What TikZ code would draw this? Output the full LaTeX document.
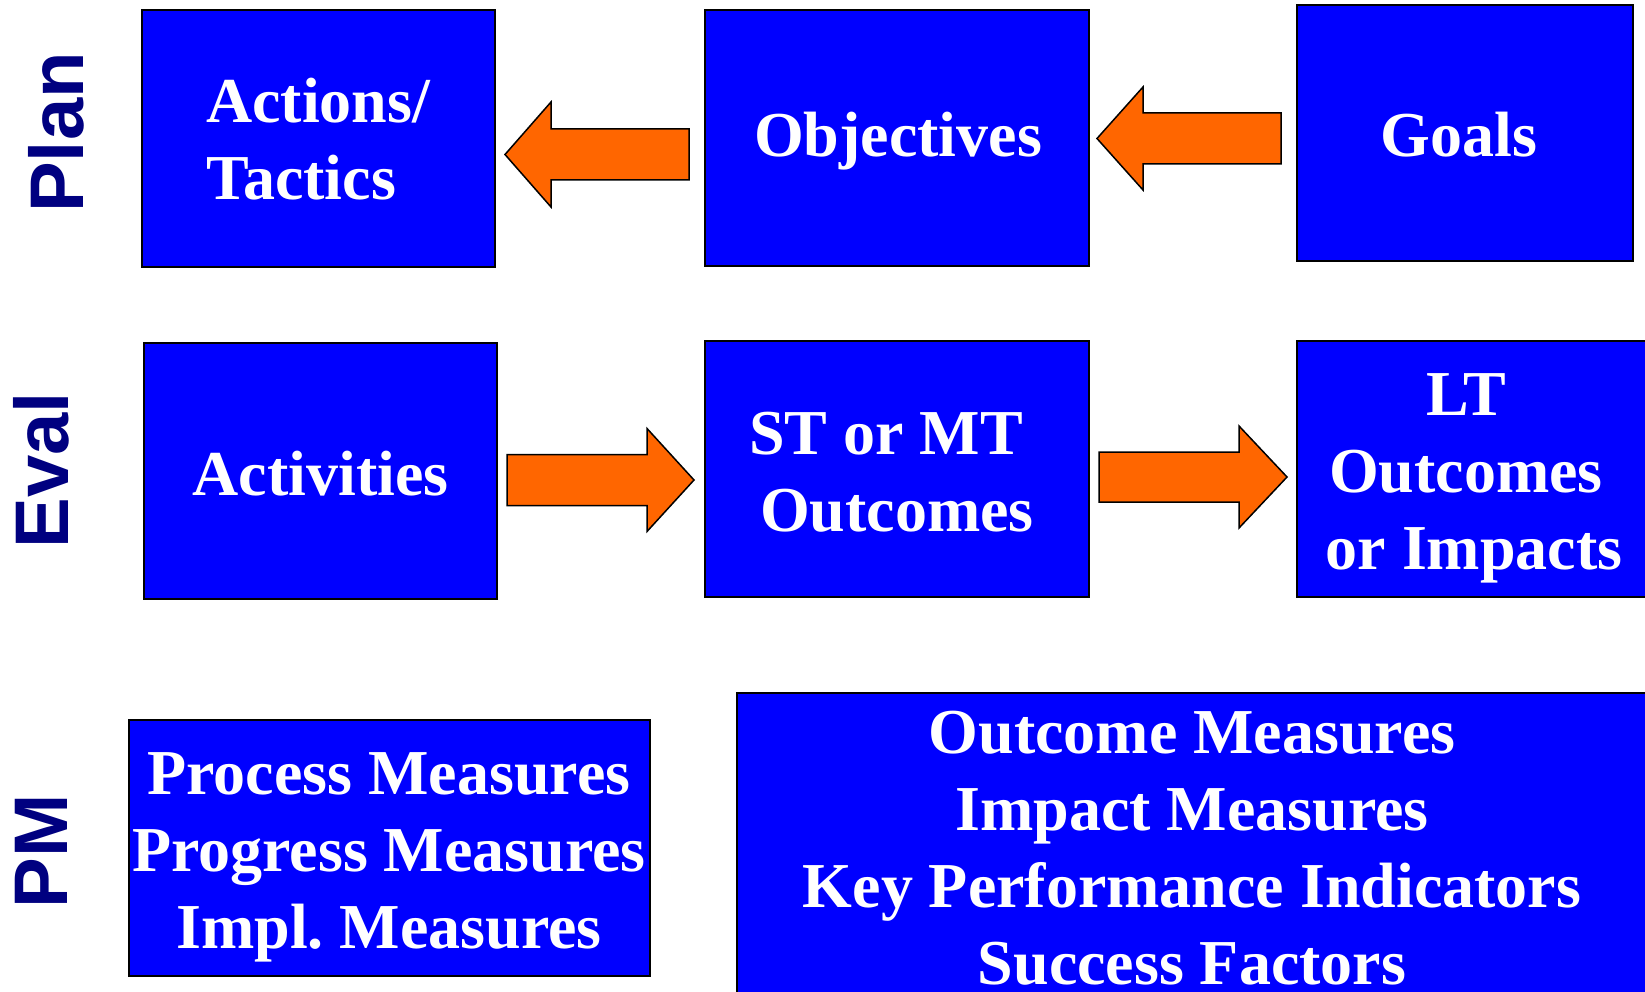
\documentclass[tikz,border=0pt]{standalone}
\usepackage{fontspec}
\setmainfont{Liberation Serif}
\newfontfamily\lblfont{Liberation Sans}
\usetikzlibrary{calc}
\definecolor{boxblue}{HTML}{0000FF}
\definecolor{arrorange}{HTML}{FF6600}
\definecolor{navy}{HTML}{000080}
\frenchspacing
% #1 tip, #2 direction (+1 points left, -1 points right), #3 head length, #4 head half height, #5 shaft half height, #6 shaft length
\newcommand\fatarrow[6]{%
  \draw[blockarrow] #1 -- ++({(#2)*#3},{-#4}) -- ++(0,{#4-#5}) -- ++({(#2)*#6},0)
    -- ++(0,{2*#5}) -- ++({-1*(#2)*#6},0) -- ++(0,{#4-#5}) -- cycle;}
\begin{document}
\begin{tikzpicture}[x=1pt,y=-1pt,
  box/.style={draw=black, line width=2pt, fill=boxblue, inner sep=0pt, outer sep=0pt},
  txt/.style={text=white, font=\fontsize{64}{77}\selectfont\bfseries, inner sep=0pt, align=center},
  lbl/.style={text=navy, font=\lblfont\fontsize{76}{80}\selectfont\bfseries, inner sep=0pt, rotate=90, anchor=base},
  blockarrow/.style={draw=black, line width=1.5pt, fill=arrorange, line join=miter}]
\useasboundingbox (0,0) rectangle (1645,992);
\clip (0,0) rectangle (1645,992);
\fill[white] (0,0) rectangle (1645,992);

% row labels
\node[lbl] (planL) at (83,132.5) {Plan};
\node[lbl] (evalL) at (68,470.5) {Eval};
\node[lbl] (pmL) at (67,851.5) {PM};

% boxes
\node[box, minimum width=353pt, minimum height=257pt] (act) at (318.5,138.5) {};
\node[box, minimum width=384pt, minimum height=256pt] (obj) at (897,138) {};
\node[box, minimum width=336pt, minimum height=256pt] (goals) at (1465,133) {};
\node[box, minimum width=353pt, minimum height=256pt] (actv) at (320.5,471) {};
\node[box, minimum width=384pt, minimum height=256pt] (st) at (897,469) {};
\node[box, minimum width=368pt, minimum height=256pt] (lt) at (1481,469) {};
\node[box, minimum width=521pt, minimum height=256pt] (pm) at (389.5,848) {};
\node[box, minimum width=928pt, minimum height=322pt] (om) at (1201,854) {};

% texts
\node[txt, align=left, anchor=north west] (actT) at (206,74) {\rule{0pt}{48pt}Actions/\\Tactics};
\node[txt, anchor=base] (objT) at (898,157) {Objectives};
\node[txt, anchor=base] (goalsT) at (1459,157) {Goals};
\node[txt, anchor=base] (actvT) at (320.5,495) {Activities};
\node[txt, anchor=north] (stT) at (897,406) {\rule{0pt}{48pt}ST or MT\hspace*{22pt}\\Outcomes};
\node[txt, anchor=north] (ltT) at (1466,367) {\rule{0pt}{48pt}LT\\Outcomes\\\hspace*{16pt}or Impacts};
\node[txt, anchor=north] (pmT) at (389,746) {\rule{0pt}{48pt}Process Measures\\Progress Measures\\Impl. Measures};
\node[txt, anchor=north] (omT) at (1192,705) {\rule{0pt}{48pt}Outcome Measures\\Impact Measures\\Key Performance Indicators\\Success Factors};

% block arrows
\fatarrow{([xshift=10pt,yshift=-16pt]act.east)}{1}{46}{52.5}{25.5}{138}
\fatarrow{([xshift=8pt,yshift=-0.5pt]obj.east)}{1}{46}{51.5}{25.5}{138}
\fatarrow{([xshift=-11pt,yshift=-11pt]st.west)}{-1}{47}{51.5}{25.5}{140}
\fatarrow{([xshift=-10pt,yshift=-8pt]lt.west)}{-1}{48}{51}{25}{140}
\end{tikzpicture}
\end{document}
